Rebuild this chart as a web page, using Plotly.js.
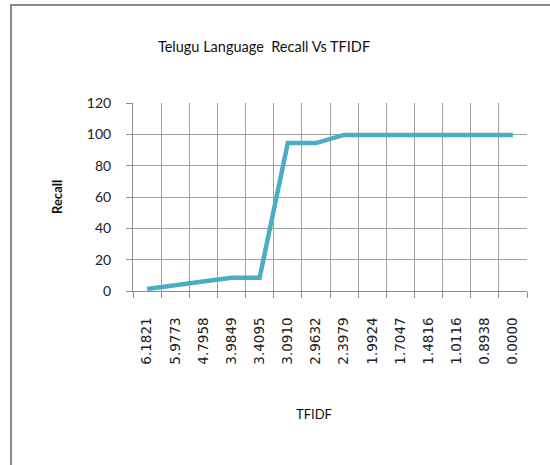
<!DOCTYPE html>
<html>
<head>
<meta charset="utf-8">
<script src="https://cdn.plot.ly/plotly-3.0.1.min.js"></script>
<style>
html,body{margin:0;padding:0;background:#fff;}
#wrap{position:relative;width:550px;height:465px;overflow:hidden;}
#chart{position:absolute;left:0;top:0;width:550px;height:465px;}
#frame{position:absolute;left:10px;top:4px;width:560px;height:480px;border-top:2px solid #8c8c8c;border-left:2px solid #8c8c8c;pointer-events:none;}
</style>
</head>
<body>
<div id="wrap"><div id="chart"></div><div id="frame"></div></div>
<script>
var tfidf = ["6.1821","5.9773","4.7958","3.9849","3.4095","3.0910","2.9632","2.3979","1.9924","1.7047","1.4816","1.0116","0.8938","0.0000"];
var recall = [1.3, 3.8, 6.5, 8.5, 8.5, 94.4, 94.4, 99.6, 99.6, 99.6, 99.6, 99.6, 99.6, 99.6];
var yTicks = [0, 20, 40, 60, 80, 100, 120];

var trace = {
  x: tfidf, y: recall, type: 'scatter', mode: 'lines',
  line: {color: '#4BACC6', width: 4.5},
  hoverinfo: 'x+y'
};

var layout = {
  width: 550, height: 465,
  margin: {l: 133, r: 23, t: 103, b: 174},
  paper_bgcolor: '#ffffff', plot_bgcolor: '#ffffff',
  showlegend: false,
  font: {family: 'Lato, "Open Sans", sans-serif', color: '#000'},
  title: {
    text: 'Telugu Language  Recall Vs TFIDF',
    font: {family: 'Lato, sans-serif', size: 14.5, color: '#111'},
    x: 264/550, xref: 'container', xanchor: 'center',
    y: 1 - 47/465, yref: 'container', yanchor: 'middle'
  },
  xaxis: {
    type: 'category',
    range: [-0.5, tfidf.length - 0.5],
    tickson: 'boundaries',
    showgrid: true, gridcolor: '#a0a0a0', gridwidth: 1,
    showline: true, linecolor: '#8c8c8c', linewidth: 1,
    ticks: 'outside', ticklen: 6, tickcolor: '#8c8c8c',
    tickangle: -90,
    ticklabelstandoff: 20,
    tickfont: {family: '"DejaVu Sans", sans-serif', size: 13.5, color: '#222'},
    zeroline: false, fixedrange: true,
    mirror: false
  },
  yaxis: {
    range: [0, 120], tickvals: yTicks,
    showgrid: true, gridcolor: '#a0a0a0', gridwidth: 1,
    showline: true, linecolor: '#8c8c8c', linewidth: 1,
    ticks: 'outside', ticklen: 6, tickcolor: '#8c8c8c',
    ticklabelstandoff: 12,
    tickfont: {family: 'Lato, sans-serif', size: 14, color: '#222'},
    zeroline: false, fixedrange: true
  },
  annotations: [
    {text: '<b>Recall</b>', xref: 'paper', yref: 'paper',
     x: (57-133)/394, y: (291-197)/188, xanchor: 'center', yanchor: 'middle',
     textangle: -90, showarrow: false,
     font: {family: 'Lato, sans-serif', size: 13, color: '#111'}},
    {text: 'TFIDF', xref: 'paper', yref: 'paper',
     x: (314-133)/394, y: (291-414)/188, xanchor: 'center', yanchor: 'middle',
     showarrow: false,
     font: {family: 'Lato, sans-serif', size: 13, color: '#111'}}
  ]
};

Plotly.newPlot('chart', [trace], layout, {displayModeBar: false, staticPlot: true});
</script>
</body>
</html>
